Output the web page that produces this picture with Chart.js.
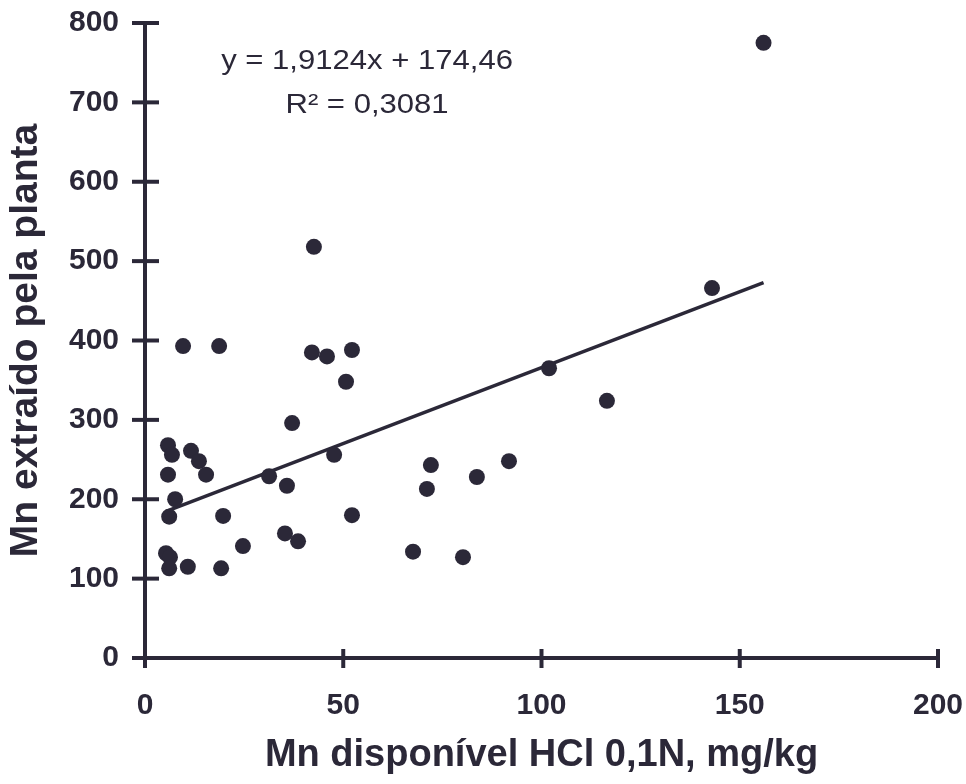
<!DOCTYPE html>
<html>
<head>
<meta charset="utf-8">
<script src="https://cdn.jsdelivr.net/npm/chart.js@4.4.0/dist/chart.umd.min.js"></script>
<style>
  html, body { margin: 0; padding: 0; background: #ffffff; }
  #wrap { width: 966px; height: 784px; }
</style>
</head>
<body>
<div id="wrap"><canvas id="c" width="966" height="784"></canvas></div>
<script>
// ---- data ----
const mnDisponivel = [156, 143, 42.6, 42.1, 45.9, 52.2, 50.7, 9.6, 18.7, 37.1, 47.7, 101.9, 116.5,
  5.8, 6.8, 11.6, 13.6, 5.8, 15.4, 7.6, 6.1, 19.7, 31.3, 35.8, 24.7, 35.3, 38.6, 52.2,
  5.3, 6.3, 6.1, 10.8, 19.2, 72.1, 71.1, 83.7, 91.8, 67.6, 80.2];
const mnExtraido = [775, 466, 518, 385, 380, 388, 348, 393, 393, 296, 256, 365, 324,
  268, 256, 261, 248, 231, 231, 200, 178, 179, 229, 217, 141, 157, 147, 180,
  132, 127, 113, 115, 113, 243, 213, 228, 248, 134, 127];
const slope = 1.9124;
const intercept = 174.46;
const equationLabel = 'y = 1,9124x + 174,46';
const r2Label = 'R² = 0,3081';
const xTicks = [0, 50, 100, 150, 200];
const yTicks = [0, 100, 200, 300, 400, 500, 600, 700, 800];
const xTitle = 'Mn disponível HCl 0,1N, mg/kg';
const yTitle = 'Mn extraído pela planta';

const INK = '#2b2838';
const FONT = '"Liberation Sans", Arial, sans-serif';
const points = mnDisponivel.map((x, i) => ({ x: x, y: mnExtraido[i] }));
const xMin = Math.min(...mnDisponivel), xMax = Math.max(...mnDisponivel);
const trend = [xMin, xMax].map(x => ({ x: x, y: slope * x + intercept }));

const zeroPad = s => { s.paddingTop = 0; s.paddingBottom = 0; s.paddingLeft = 0; s.paddingRight = 0; };

const axesPlugin = {
  id: 'customAxes',
  afterDraw(chart) {
    const { ctx, scales: { x, y }, chartArea } = chart;
    ctx.save();
    ctx.strokeStyle = INK;
    ctx.lineCap = 'butt';
    ctx.lineWidth = 4;
    const x0 = x.getPixelForValue(0);
    const y0 = y.getPixelForValue(0);
    // y axis
    ctx.beginPath();
    ctx.moveTo(x0, y.getPixelForValue(800) - 2);
    ctx.lineTo(x0, y0 + 10);
    ctx.stroke();
    // x axis
    ctx.beginPath();
    ctx.moveTo(x0 - 13, y0);
    ctx.lineTo(x.getPixelForValue(200) + 1, y0);
    ctx.stroke();
    // y major ticks
    yTicks.forEach(v => {
      const py = y.getPixelForValue(v);
      ctx.beginPath();
      ctx.moveTo(x0 - 13, py);
      ctx.lineTo(x0 + 14, py);
      ctx.stroke();
    });
    // x major ticks
    xTicks.forEach(v => {
      const px = x.getPixelForValue(v);
      ctx.beginPath();
      ctx.moveTo(px, y0 - 9);
      ctx.lineTo(px, y0 + 10);
      ctx.stroke();
    });
    // equation annotation (scan is horizontally stretched)
    ctx.fillStyle = INK;
    ctx.textAlign = 'center';
    ctx.textBaseline = 'alphabetic';
    ctx.font = '27px ' + FONT;
    const cx = x.getPixelForValue(56);
    const sx = 1.15;
    ctx.translate(cx, 0);
    ctx.scale(sx, 1);
    ctx.fillText(equationLabel, 0, chartArea.top + 46);
    ctx.fillText(r2Label, 0, chartArea.top + 90);
    ctx.restore();
  }
};

new Chart(document.getElementById('c'), {
  type: 'scatter',
  data: {
    datasets: [
      {
        label: 'dados',
        data: points,
        backgroundColor: INK,
        borderColor: INK,
        pointRadius: 8,
        pointHoverRadius: 8,
        borderWidth: 0
      },
      {
        type: 'line',
        label: 'tendência',
        data: trend,
        borderColor: INK,
        borderWidth: 3.5,
        pointRadius: 0,
        fill: false
      }
    ]
  },
  options: {
    responsive: false,
    animation: false,
    layout: { padding: { top: 23, right: 28, left: 0, bottom: 0 } },
    plugins: { legend: { display: false }, tooltip: { enabled: false } },
    scales: {
      x: {
        type: 'linear',
        min: 0, max: 200,
        afterBuildTicks: s => { s.ticks = xTicks.map(v => ({ value: v })); },
        afterFit: s => { s.height = 126; zeroPad(s); },
        border: { display: false },
        grid: { display: false, drawTicks: false },
        ticks: {
          color: INK,
          padding: 30,
          font: { family: FONT, size: 30, weight: 'bold' },
          maxRotation: 0
        },
        title: {
          display: true,
          text: xTitle,
          color: INK,
          font: { family: FONT, size: 38, weight: 'bold' },
          padding: { top: 0, bottom: 6 }
        }
      },
      y: {
        type: 'linear',
        min: 0, max: 800,
        afterBuildTicks: s => { s.ticks = yTicks.map(v => ({ value: v })); },
        afterFit: s => { s.width = 145; zeroPad(s); },
        border: { display: false },
        grid: { display: false, drawTicks: false },
        ticks: {
          color: INK,
          padding: 26,
          font: { family: FONT, size: 30, weight: 'bold' }
        },
        title: {
          display: true,
          text: yTitle,
          color: INK,
          font: { family: FONT, size: 39, weight: 'bold' },
          padding: { top: 3, bottom: 0 }
        }
      }
    }
  },
  plugins: [axesPlugin]
});
</script>
</body>
</html>
